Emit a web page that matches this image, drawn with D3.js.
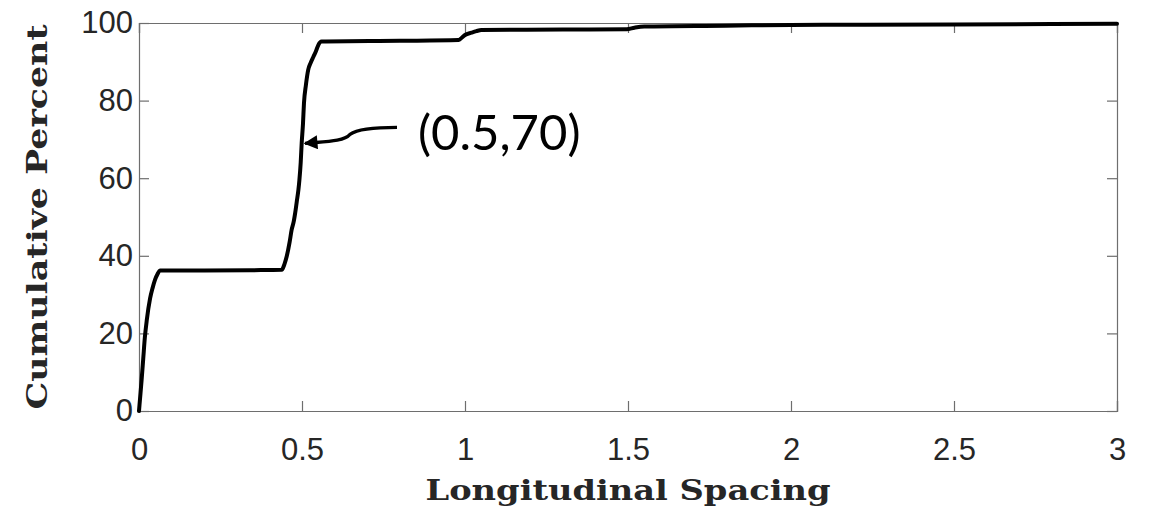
<!DOCTYPE html>
<html>
<head>
<meta charset="utf-8">
<script src="https://cdn.jsdelivr.net/npm/d3@7"></script>
<style>
  html, body { margin: 0; padding: 0; background: #fff; }
  svg { display: block; }
</style>
</head>
<body>
<svg id="chart"></svg>
<script>
// cumulative distribution
const spacing = [0, 0.003, 0.008, 0.013, 0.018, 0.024, 0.034, 0.042, 0.049, 0.057, 0.064, 0.2, 0.35, 0.438, 0.446, 0.453, 0.462, 0.468, 0.475, 0.479, 0.484, 0.489, 0.492, 0.496, 0.499, 0.503, 0.506, 0.512, 0.519, 0.527, 0.535, 0.543, 0.55, 0.56, 0.8, 0.98, 0.99, 1.0, 1.02, 1.035, 1.05, 1.3, 1.496, 1.52, 1.55, 1.8, 2.0, 2.5, 3.0];
const cumPercent = [0, 3, 8, 13.5, 19, 23.5, 29, 31.8, 33.8, 35.3, 36.2, 36.2, 36.3, 36.4, 37.8, 39.8, 43.5, 46.6, 49, 51, 54, 57, 59.5, 64, 69, 74, 79.3, 84, 87.9, 89.8, 91.3, 92.8, 94.3, 95.2, 95.4, 95.6, 96.2, 96.9, 97.5, 97.9, 98.2, 98.3, 98.4, 98.8, 99.1, 99.3, 99.5, 99.6, 99.8];
const xTicks = [0, 0.5, 1, 1.5, 2, 2.5, 3];
const yTicks = [0, 20, 40, 60, 80, 100];
const annotation = { x: 0.5, y: 70, label: '(0.5,70)' };

const width = 1153, height = 512;
const margin = { top: 23, right: 36, bottom: 101, left: 139 };

const svg = d3.select('#chart')
  .attr('width', width)
  .attr('height', height);

const x = d3.scaleLinear().domain([0, 3]).range([margin.left, width - margin.right]);
const y = d3.scaleLinear().domain([0, 100]).range([height - margin.bottom, margin.top]);

const axisColor = '#262626';
const tickLen = 10;

// axes: ticks point inward, mirrored on top/right (box on)
const gx = svg.append('g')
  .attr('transform', `translate(0,${y(0)})`)
  .call(d3.axisBottom(x).tickValues(xTicks).tickSize(-tickLen).tickPadding(27).tickFormat(d3.format('~g')));
const gxTop = svg.append('g')
  .attr('transform', `translate(0,${y(100)})`)
  .call(d3.axisTop(x).tickValues(xTicks).tickSize(-tickLen).tickFormat(''));
const gy = svg.append('g')
  .attr('transform', `translate(${x(0)},0)`)
  .call(d3.axisLeft(y).tickValues(yTicks).tickSize(-tickLen).tickPadding(6));
const gyRight = svg.append('g')
  .attr('transform', `translate(${x(3)},0)`)
  .call(d3.axisRight(y).tickValues(yTicks).tickSize(-tickLen).tickFormat(''));

[gx, gxTop, gy, gyRight].forEach(g => {
  g.select('.domain').attr('stroke', '#6e6e6e').attr('stroke-width', 1.2);
  g.selectAll('.tick line').attr('stroke', '#6e6e6e').attr('stroke-width', 1.2);
  g.selectAll('.tick text')
    .attr('fill', axisColor)
    .style('font-family', '"Liberation Sans", Arial, sans-serif')
    .style('font-size', '31px');
});

// the CDF line
const line = d3.line()
  .x((d, i) => x(spacing[i]))
  .y(d => y(d))
  .curve(d3.curveMonotoneX);

svg.append('path')
  .datum(cumPercent)
  .attr('d', line)
  .attr('fill', 'none')
  .attr('stroke', '#000')
  .attr('stroke-width', 4)
  .attr('stroke-linejoin', 'round')
  .attr('stroke-linecap', 'round');

// axis labels
svg.append('text')
  .attr('x', (x(0) + x(3)) / 2)
  .attr('y', 500)
  .attr('text-anchor', 'middle')
  .attr('fill', axisColor)
  .style('font-family', '"DejaVu Serif", serif')
  .style('font-weight', 'bold')
  .style('font-size', '27px')
  .attr('textLength', 405)
  .attr('lengthAdjust', 'spacingAndGlyphs')
  .text('Longitudinal Spacing');

svg.append('text')
  .attr('transform', `translate(47,${(y(0) + y(100)) / 2}) rotate(-90)`)
  .attr('text-anchor', 'middle')
  .attr('fill', axisColor)
  .style('font-family', '"DejaVu Serif", serif')
  .style('font-weight', 'bold')
  .style('font-size', '27px')
  .attr('textLength', 385)
  .attr('lengthAdjust', 'spacingAndGlyphs')
  .text('Cumulative Percent');

// annotation arrow pointing at (0.5, 70)
const tipX = x(annotation.x), tipY = y(annotation.y) + 4;
svg.append('defs').append('marker')
  .attr('id', 'head')
  .attr('viewBox', '0 0 10 10')
  .attr('refX', 9).attr('refY', 5)
  .attr('markerWidth', 4.6).attr('markerHeight', 4.2)
  .attr('orient', 'auto-start-reverse')
  .append('path')
  .attr('d', 'M0,0 L10,5 L0,10 Z')
  .attr('fill', '#000');

svg.append('path')
  .attr('d', `M${tipX + 95},${tipY - 16} C${tipX + 70},${tipY - 16} ${tipX + 55},${tipY - 14} ${tipX + 48},${tipY - 9} C${tipX + 42},${tipY - 2} ${tipX + 25},${tipY - 2} ${tipX + 3},${tipY}`)
  .attr('fill', 'none')
  .attr('stroke', '#000')
  .attr('stroke-width', 3.3)
  .attr('marker-end', 'url(#head)');

svg.append('text')
  .attr('x', tipX + 116)
  .attr('y', tipY + 7)
  .attr('fill', '#000')
  .style('font-family', 'Lato, "Open Sans", sans-serif')
  .style('font-size', '49px')
  .text(annotation.label);
</script>
</body>
</html>
